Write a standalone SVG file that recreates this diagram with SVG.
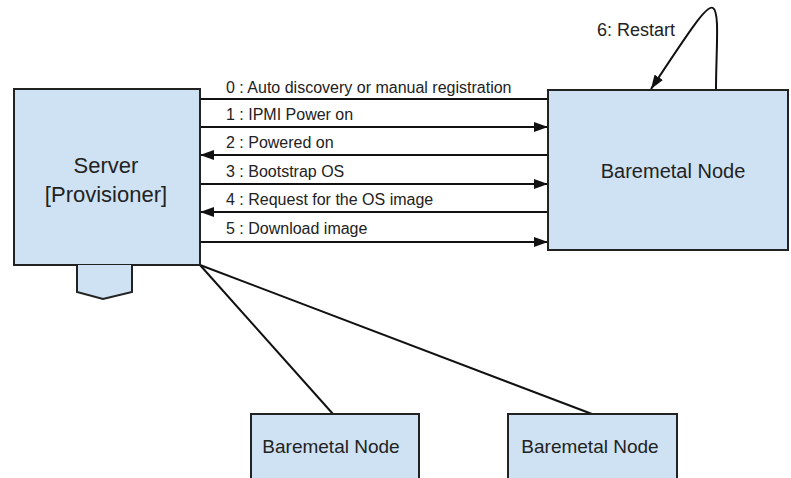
<svg xmlns="http://www.w3.org/2000/svg" width="791" height="478" viewBox="0 0 791 478">
  <style>
    .box { fill: #cfe2f3; stroke: #222; stroke-width: 2; }
    .wire { fill: none; stroke: #111; stroke-width: 2; }
    .lbl { font-family: "Liberation Sans", Arial, sans-serif; fill: #222; }
    .msg { font-size: 16px; }
  </style>
  <defs>
    <marker id="arrow" viewBox="0 0 14 10" refX="14" refY="5" markerWidth="14" markerHeight="10" markerUnits="userSpaceOnUse" orient="auto">
      <path d="M0,0 L14,5 L0,10 Z" fill="#111"/>
    </marker>
  </defs>

  <rect width="791" height="478" fill="#ffffff"/>

  <g id="connectors">
    <!-- message lines between server and node -->
    <line class="wire" x1="200" y1="99" x2="548" y2="99"/>
    <line class="wire" x1="200" y1="127" x2="548" y2="127" marker-end="url(#arrow)"/>
    <line class="wire" x1="548" y1="155" x2="200" y2="155" marker-end="url(#arrow)"/>
    <line class="wire" x1="200" y1="184" x2="548" y2="184" marker-end="url(#arrow)"/>
    <line class="wire" x1="548" y1="212" x2="200" y2="212" marker-end="url(#arrow)"/>
    <line class="wire" x1="200" y1="242" x2="548" y2="242" marker-end="url(#arrow)"/>
    <!-- restart loop -->
    <path class="wire" d="M716,90 C716,50 720,12 713,8 C707,4 690,30 651,89" marker-end="url(#arrow)"/>
    <!-- links to other nodes -->
    <line class="wire" x1="200" y1="265" x2="333" y2="414"/>
    <line class="wire" x1="200" y1="265" x2="592" y2="414"/>
    <!-- message labels -->
    <text class="lbl msg" x="226" y="93">0 : Auto discovery or manual registration</text>
    <text class="lbl msg" x="226" y="120">1 : IPMI Power on</text>
    <text class="lbl msg" x="226" y="148">2 : Powered on</text>
    <text class="lbl msg" x="226" y="177">3 : Bootstrap OS</text>
    <text class="lbl msg" x="226" y="205">4 : Request for the OS image</text>
    <text class="lbl msg" x="226" y="234">5 : Download image</text>
    <text class="lbl" x="597" y="36" font-size="18">6: Restart</text>
  </g>

  <g id="server">
    <rect class="box" x="14" y="89" width="186" height="176"/>
    <path class="box" d="M77,265 L77,292 L103,299 L132,292 L132,265"/>
    <text class="lbl" x="106" y="173" font-size="22" text-anchor="middle">Server</text>
    <text class="lbl" x="106" y="202" font-size="22" text-anchor="middle">[Provisioner]</text>
  </g>

  <g id="node-main">
    <rect class="box" x="548" y="90" width="240" height="160"/>
    <text class="lbl" x="673" y="178" font-size="20" text-anchor="middle">Baremetal Node</text>
  </g>

  <g id="node-left">
    <rect class="box" x="251" y="414" width="168" height="70"/>
    <text class="lbl" x="331" y="453" font-size="19" text-anchor="middle">Baremetal Node</text>
  </g>

  <g id="node-right">
    <rect class="box" x="508" y="414" width="169" height="70"/>
    <text class="lbl" x="590" y="453" font-size="19" text-anchor="middle">Baremetal Node</text>
  </g>
</svg>
